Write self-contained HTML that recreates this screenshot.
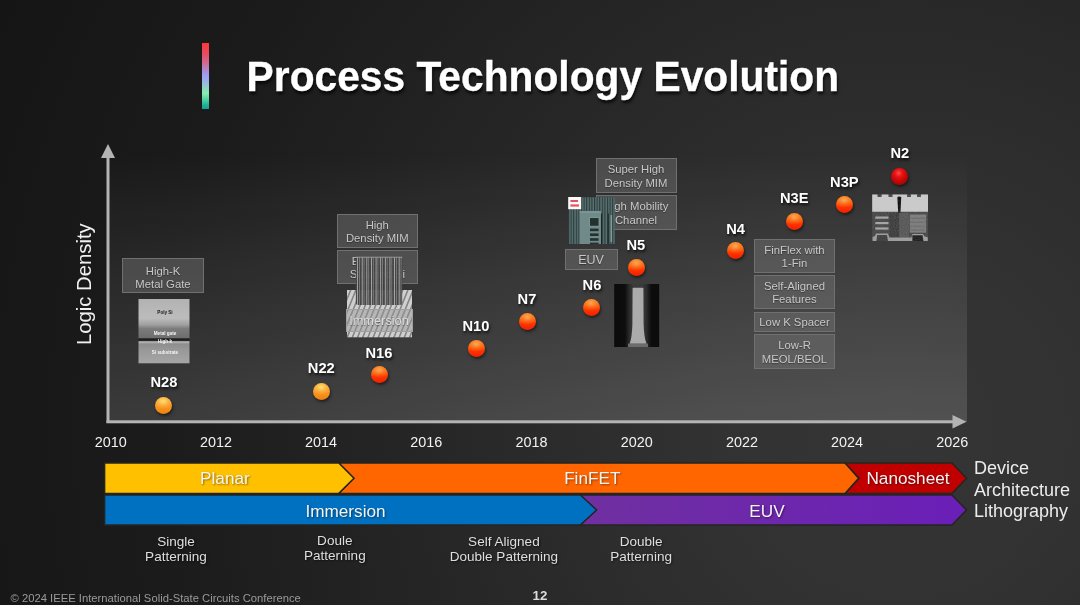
<!DOCTYPE html>
<html>
<head>
<meta charset="utf-8">
<title>Process Technology Evolution</title>
<style>
html,body{margin:0;padding:0;}
body{width:1080px;height:605px;overflow:hidden;background:#222;font-family:"Liberation Sans",sans-serif;}
#slide{position:relative;width:1080px;height:605px;overflow:hidden;
  background:radial-gradient(circle 1000px at 900px 430px,#353535 0%,#323232 18%,#2b2b2b 36%,#232323 55%,#1b1b1b 75%,#151515 100%);}
.abs{position:absolute;}
#plot{left:109px;top:148px;width:858px;height:274px;
  background:linear-gradient(180deg,rgba(255,255,255,0) 0%,rgba(255,255,255,0.075) 50%,rgba(255,255,255,0.145) 100%);}
#accent{left:202px;top:43px;width:7px;height:65.5px;
  background:linear-gradient(180deg,#ff3838 0%,#e84a60 16%,#d06a90 30%,#b088c8 40%,#a09cf8 49%,#98b8e0 60%,#90d8c0 70%,#88f0b0 76%,#50d0a0 86%,#20b098 94%,#10a090 100%);}
#title{left:246.6px;top:52.5px;-webkit-text-stroke:0.3px #fff;transform:scaleY(1.04);transform-origin:0 0;font-size:40.75px;font-weight:bold;color:#fff;white-space:nowrap;line-height:47px;
  text-shadow:1px 2px 3px rgba(0,0,0,0.75);}
.yr{position:absolute;top:434px;width:60px;margin-left:-30px;text-align:center;color:#f2f2f2;font-size:14.4px;line-height:17px;}
.nl{position:absolute;width:60px;margin-left:-30px;margin-top:0.8px;text-align:center;color:#fff;font-weight:bold;font-size:14.7px;line-height:17px;
  text-shadow:1px 2px 3px rgba(0,0,0,0.8);}
.dot{position:absolute;width:17px;height:17px;margin:-8.5px 0 0 -8.5px;border-radius:50%;box-shadow:1px 2px 3px rgba(0,0,0,0.5);}
.d1{background:radial-gradient(ellipse 60% 45% at 48% 24%,rgba(255,232,120,0.9) 0%,rgba(255,205,100,0.4) 55%,rgba(255,190,100,0) 100%),linear-gradient(180deg,#f6a030 0%,#f89a26 45%,#f78c18 75%,#e88010 100%);}
.d2{background:radial-gradient(ellipse 60% 45% at 48% 24%,rgba(255,190,110,0.75) 0%,rgba(255,150,60,0.35) 55%,rgba(255,120,40,0) 100%),linear-gradient(180deg,#f67c16 0%,#fa5c0a 40%,#ff3000 68%,#f02000 100%);}
.d3{background:radial-gradient(circle at 45% 30%,#ff4a4a 0%,#e81414 25%,#c40606 55%,#8e0000 100%);}
.box{position:absolute;box-sizing:border-box;border:1.4px solid #707070;background:rgba(124,124,124,0.42);color:#c8c8c8;
  font-size:11.3px;line-height:13.2px;text-align:center;display:flex;align-items:center;justify-content:center;padding-top:2px;
  text-shadow:0 1px 1px rgba(0,0,0,0.4);}
.pat{position:absolute;width:140px;margin-left:-70px;text-align:center;color:#dedede;font-size:13.55px;line-height:15px;
  text-shadow:1px 1px 2px rgba(0,0,0,0.6);}
.bl{position:absolute;color:#f4f4f4;font-size:17.2px;line-height:20px;width:160px;margin-left:-80px;text-align:center;
  text-shadow:1px 1px 2px rgba(0,0,0,0.45);}
.rl{position:absolute;left:974px;color:#ececec;font-size:18px;line-height:21px;white-space:nowrap;}
</style>
</head>
<body>
<div id="slide">
<div id="fx" style="position:absolute;left:0;top:0;width:1080px;height:605px;filter:blur(0.45px)">
  <div id="plot" class="abs"></div>
  <div id="accent" class="abs"></div>
  <div id="title" class="abs">Process Technology Evolution</div>

  <!-- axes + bars -->
  <svg class="abs" style="left:0;top:0" width="1080" height="605" viewBox="0 0 1080 605">
    <g fill="#b4b4b4">
      <rect x="106.5" y="156" width="3" height="267"/>
      <polygon points="108,144 115,158 101,158"/>
      <rect x="106.5" y="420.3" width="848" height="3"/>
      <polygon points="966.5,421.8 952.5,415 952.5,428.6"/>
    </g>
    <defs>
      <linearGradient id="pg" x1="0" x2="1" y1="0" y2="0">
        <stop offset="0" stop-color="#7030a0"/><stop offset="1" stop-color="#6a1fb8"/>
      </linearGradient>
    </defs>
    <!-- device architecture -->
    <polygon points="845,463 952,463 966.5,478.2 952,493.4 845,493.4 859,478.2" fill="#c00000" stroke="#242420" stroke-width="1.5" stroke-linejoin="miter"/>
    <polygon points="338.6,463 845,463 858.6,478.2 845,493.4 338.6,493.4 353.6,478.2" fill="#ff6600" stroke="#242420" stroke-width="1.5" stroke-linejoin="miter"/>
    <polygon points="104.6,463 338.8,463 354,478.2 338.8,493.4 104.6,493.4" fill="#ffc000" stroke="#242420" stroke-width="1.5" stroke-linejoin="miter"/>
    <!-- lithography -->
    <polygon points="580,495 952,495 966.5,510 952,525 580,525 596,510" fill="url(#pg)" stroke="#242420" stroke-width="1.5" stroke-linejoin="miter"/>
    <polygon points="104.6,495 580.4,495 596.6,510 580.4,525 104.6,525" fill="#0070c0" stroke="#242420" stroke-width="1.5" stroke-linejoin="miter"/>
  </svg>

  <div class="abs" id="ylab" style="left:23.5px;top:273px;width:120px;height:24px;line-height:24px;text-align:center;color:#f0f0f0;font-size:20.3px;transform:rotate(-90deg);white-space:nowrap;">Logic Density</div>

  <!-- years -->
  <div class="yr" style="left:110.7px">2010</div>
  <div class="yr" style="left:215.9px">2012</div>
  <div class="yr" style="left:321.1px">2014</div>
  <div class="yr" style="left:426.3px">2016</div>
  <div class="yr" style="left:531.5px">2018</div>
  <div class="yr" style="left:636.7px">2020</div>
  <div class="yr" style="left:741.9px">2022</div>
  <div class="yr" style="left:847.1px">2024</div>
  <div class="yr" style="left:952.3px">2026</div>

  <!-- boxes -->
  <div class="box" style="left:122px;top:258px;width:82px;height:35px;padding-top:4.5px">High-K<br>Metal Gate</div>
  <div class="box" style="left:337px;top:214px;width:80.6px;height:34px">High<br>Density MIM</div>
  <div class="box" style="left:337px;top:250px;width:80.6px;height:34px">Enhanced<br>Strained Si</div>
  <div class="box" style="left:595.5px;top:158px;width:81px;height:35px">Super High<br>Density MIM</div>
  <div class="box" style="left:595.5px;top:195px;width:81px;height:35px">High Mobility<br>Channel</div>
  <div class="box" style="left:754px;top:239px;width:81px;height:34px">FinFlex with<br>1-Fin</div>
  <div class="box" style="left:754px;top:275px;width:81px;height:34px">Self-Aligned<br>Features</div>
  <div class="box" style="left:754px;top:312px;width:81px;height:20px">Low K Spacer</div>
  <div class="box" style="left:754px;top:334px;width:81px;height:35px">Low-R<br>MEOL/BEOL</div>
  <div class="box" style="left:564.5px;top:249px;width:53px;height:21px;font-size:12.5px">EUV</div>


  <!-- SEM gate stack image -->
  <svg class="abs" style="left:138px;top:299px" width="52" height="65" viewBox="0 0 52 65">
    <defs>
      <linearGradient id="sem" x1="0" x2="0" y1="0" y2="1">
        <stop offset="0" stop-color="#b2b2b2"/><stop offset="0.30" stop-color="#bcbcbc"/>
        <stop offset="0.40" stop-color="#a0a0a0"/><stop offset="0.46" stop-color="#7c7c7c"/>
        <stop offset="0.60" stop-color="#6e6e6e"/><stop offset="0.62" stop-color="#1c1c1c"/>
        <stop offset="0.645" stop-color="#242424"/><stop offset="0.665" stop-color="#bcbcbc"/>
        <stop offset="0.70" stop-color="#8e8e8e"/><stop offset="0.80" stop-color="#999999"/>
        <stop offset="1" stop-color="#a6a6a6"/>
      </linearGradient>
      <filter id="b3"><feGaussianBlur stdDeviation="0.35"/></filter>
    </defs>
    <rect x="0.5" y="0" width="51" height="64.3" fill="url(#sem)"/>
    <g font-family="Liberation Sans, sans-serif" font-weight="bold" font-size="4.6" text-anchor="middle" filter="url(#b3)">
      <text x="27" y="14.6" fill="#1a1a1a">Poly Si</text>
      <text x="27" y="36.2" fill="#f4f4f4">Metal gate</text>
      <text x="27" y="43.6" fill="#f4f4f4">High-k</text>
      <text x="27" y="55" fill="#f4f4f4">Si substrate</text>
    </g>
  </svg>

  <!-- FinFET drawing -->
  <svg class="abs" style="left:340px;top:250px" width="80" height="95" viewBox="0 0 80 95">
    <defs>
      <pattern id="hatch" width="5.2" height="12" patternUnits="userSpaceOnUse" patternTransform="skewX(-22)">
        <rect x="0" y="0" width="5.2" height="12" fill="#cfcfcf"/>
        <rect x="0" y="0" width="1.7" height="12" fill="#858585"/>
      </pattern>
      <pattern id="fins" x="16.2" width="4.62" height="50" patternUnits="userSpaceOnUse">
        <rect x="0" y="0" width="4.62" height="50" fill="#414141" fill-opacity="0.93"/>
        <rect x="0.9" y="0" width="0.75" height="50" fill="#c4c4c4"/>
        <rect x="2.95" y="0" width="0.7" height="50" fill="#8c8c8c"/>
      </pattern>
      <filter id="b4"><feGaussianBlur stdDeviation="0.3"/></filter>
    </defs>
    <g filter="url(#b4)">
      <rect x="7" y="40" width="65" height="47.3" fill="url(#hatch)"/>
      <rect x="15.8" y="7" width="46.4" height="48" rx="2" fill="url(#fins)"/>
      <rect x="15.8" y="6.6" width="46.4" height="1.4" fill="#9a9a9a" opacity="0.7"/>
    </g>
  </svg>
  <div class="box" style="left:345.5px;top:309px;width:67px;height:23px;font-size:12.8px;background:rgba(150,150,150,0.45);border-color:#a0a0a0;color:#dcdcdc;padding-top:0">Immersion</div>

  <!-- EUV scanner image -->
  <svg class="abs" style="left:568px;top:197px" width="48" height="48" viewBox="0 0 48 48">
    <defs>
      <pattern id="vst" width="2.6" height="10" patternUnits="userSpaceOnUse">
        <rect width="2.6" height="10" fill="#587070"/>
        <rect width="1.1" height="10" fill="#2c3a3a"/>
      </pattern>
      <filter id="b5"><feGaussianBlur stdDeviation="0.3"/></filter>
    </defs>
    <g filter="url(#b5)">
      <rect x="0.4" y="0.2" width="46.4" height="46.8" fill="url(#vst)"/>
      <rect x="11.6" y="14.3" width="21.4" height="32.7" fill="#6f8a8a"/>
      <rect x="11.6" y="14.3" width="21.4" height="1.2" fill="#85a0a0"/>
      <rect x="21.6" y="20.6" width="9.4" height="8.6" fill="#24302f" stroke="#86a2a0" stroke-width="0.8"/>
      <rect x="22" y="31.6" width="8.6" height="2.6" fill="#24302f"/>
      <rect x="22" y="36.4" width="8.6" height="2.6" fill="#24302f"/>
      <rect x="22" y="41.2" width="8.6" height="2.6" fill="#24302f"/>
      <rect x="22" y="45.6" width="8.6" height="1.4" fill="#24302f"/>
      <rect x="33" y="16.5" width="1" height="30.5" fill="#1c2727"/>
      <rect x="39.8" y="16.5" width="1" height="30.5" fill="#1c2727"/>
      <rect x="42.5" y="18" width="1.6" height="27" fill="#7f9c9a"/>
      <rect x="0.2" y="0" width="13" height="12.2" fill="#fafafa"/>
      <rect x="2.4" y="3" width="7.6" height="2" fill="#e45560"/>
      <rect x="2.4" y="7.4" width="8.6" height="2.2" fill="#e45560"/>
    </g>
  </svg>

  <!-- fin TEM image -->
  <svg class="abs" style="left:614px;top:284px" width="46" height="64" viewBox="0 0 46 64">
    <defs>
      <linearGradient id="halo" x1="0" x2="1" y1="0" y2="0">
        <stop offset="0" stop-color="#0b0b0b"/><stop offset="0.24" stop-color="#0d0d0d"/>
        <stop offset="0.34" stop-color="#2c2c2c"/><stop offset="0.42" stop-color="#3a3a3a"/>
        <stop offset="0.64" stop-color="#3a3a3a"/><stop offset="0.72" stop-color="#2c2c2c"/>
        <stop offset="0.82" stop-color="#0d0d0d"/><stop offset="1" stop-color="#0b0b0b"/>
      </linearGradient>
      <filter id="b6"><feGaussianBlur stdDeviation="0.7"/></filter>
    </defs>
    <rect x="0.2" y="0" width="45" height="63" fill="url(#halo)"/>
    <g filter="url(#b6)">
      <path d="M18.6 4.6 Q18.6 3.8 19.6 3.8 L28.4 3.8 Q29.4 3.8 29.4 4.6 L29.6 40 Q30 54 32.6 59.8 L15.6 59.8 Q18 54 18.4 40 Z" fill="#ababab"/>
      <rect x="14" y="59.6" width="20" height="3.4" fill="#6c6c6c"/>
    </g>
  </svg>

  <!-- nanosheet TEM image -->
  <svg class="abs" style="left:872px;top:194px" width="57" height="48" viewBox="0 0 57 48">
    <defs>
      <filter id="b7"><feGaussianBlur stdDeviation="0.45"/></filter>
      <filter id="nz" x="0" y="0" width="1" height="1">
        <feTurbulence type="fractalNoise" baseFrequency="0.9" numOctaves="2" seed="3" result="n"/>
        <feColorMatrix in="n" type="matrix" values="0 0 0 0 0.5  0 0 0 0 0.5  0 0 0 0 0.5  0.9 0 0 0 -0.25" result="g"/>
        <feComposite in="g" in2="SourceGraphic" operator="in"/>
      </filter>
    </defs>
    <g filter="url(#b7)">
      <rect x="0.2" y="0.4" width="55.8" height="46.5" fill="#444444"/>
      <path d="M0.2 0.4 H5.5 V3.1 H9.6 V0.4 H16.5 V3.1 H20.5 V0.4 H35.1 V3.1 H38.9 V0.4 H45.1 V3.1 H48.9 V0.4 H56 V17.8 H0.2 Z" fill="#cbcbcb"/>
      <path d="M25.4 3.4 Q25.4 2.6 27.2 2.6 Q29.2 2.6 29.2 3.4 L28.8 12 L28.4 18.6 L26.2 18.6 L25.8 12 Z" fill="#0a0a0a"/>
      <rect x="3.3" y="22.5" width="13.2" height="2.2" fill="#a4a4a4"/>
      <rect x="3.3" y="28" width="13.2" height="2.2" fill="#a4a4a4"/>
      <rect x="3.3" y="33.4" width="13.2" height="2.2" fill="#a4a4a4"/>
      <rect x="17.8" y="19" width="9.2" height="24.3" fill="#3a3a3a"/>
      <rect x="27.2" y="19" width="9.8" height="24.3" fill="#555555"/>
      <rect x="37.8" y="20.5" width="16.4" height="18.2" fill="#7a7a7a"/>
      <g fill="#6a6a6a"><rect x="38.4" y="23.6" width="15" height="1.2"/><rect x="38.4" y="27.6" width="15" height="1.2"/><rect x="38.4" y="31.6" width="15" height="1.2"/><rect x="38.4" y="35.4" width="15" height="1.2"/></g>
      <path d="M0.6 46.9 V43 L3 42 L4 39.6 H16 L17.4 43.4 H39.4 L40.4 40 H51 L52.6 42.6 L55.8 43.2 V46.9 Z" fill="#9c9c9c"/>
      <path d="M4.4 46.9 L5.2 41 H15 L16 46.9 Z" fill="#3c3c3c"/>
      <path d="M40.4 46.9 V41.2 H50.6 L51.4 46.9 Z" fill="#1c1c1c"/>
    </g>
    <rect x="0.2" y="0.4" width="55.8" height="46.5" fill="#000" filter="url(#nz)" opacity="0.35"/>
  </svg>

  <!-- node labels + dots -->
  <div class="nl" style="left:164px;top:373px">N28</div><div class="dot d1" style="left:163.6px;top:405.8px"></div>
  <div class="nl" style="left:321.3px;top:359px">N22</div><div class="dot d1" style="left:321.3px;top:391.6px"></div>
  <div class="nl" style="left:379px;top:344px">N16</div><div class="dot d2" style="left:379.5px;top:374.5px"></div>
  <div class="nl" style="left:476px;top:317px">N10</div><div class="dot d2" style="left:476.2px;top:348.4px"></div>
  <div class="nl" style="left:527px;top:290px">N7</div><div class="dot d2" style="left:527px;top:321.5px"></div>
  <div class="nl" style="left:592px;top:276px">N6</div><div class="dot d2" style="left:591.3px;top:307.3px"></div>
  <div class="nl" style="left:635.8px;top:236px">N5</div><div class="dot d2" style="left:636.1px;top:267px"></div>
  <div class="nl" style="left:735.6px;top:220px">N4</div><div class="dot d2" style="left:735.6px;top:250.3px"></div>
  <div class="nl" style="left:794.3px;top:189px">N3E</div><div class="dot d2" style="left:794.3px;top:221.4px"></div>
  <div class="nl" style="left:844.4px;top:173px">N3P</div><div class="dot d2" style="left:844.8px;top:204.4px"></div>
  <div class="nl" style="left:899.8px;top:144px">N2</div><div class="dot d3" style="left:899.8px;top:176.3px"></div>

  <!-- bar labels -->
  <div class="bl" style="left:224.9px;top:468px">Planar</div>
  <div class="bl" style="left:592.3px;top:468px">FinFET</div>
  <div class="bl" style="left:908px;top:468px">Nanosheet</div>
  <div class="bl" style="left:345.5px;top:500.5px">Immersion</div>
  <div class="bl" style="left:767px;top:500.5px">EUV</div>

  <div class="rl" style="top:458px">Device</div>
  <div class="rl" style="top:479.5px">Architecture</div>
  <div class="rl" style="top:501px">Lithography</div>

  <!-- patterning -->
  <div class="pat" style="left:176px;top:534.3px">Single<br>Patterning</div>
  <div class="pat" style="left:334.8px;top:533px">Doule<br>Patterning</div>
  <div class="pat" style="left:503.9px;top:534.3px">Self Aligned<br>Double Patterning</div>
  <div class="pat" style="left:641.1px;top:534.3px">Double<br>Patterning</div>

  <!-- footer -->
  <div class="abs" style="left:10.5px;top:591.7px;font-size:11.25px;line-height:13px;color:#9a9a9a;white-space:nowrap">© 2024 IEEE International Solid-State Circuits Conference</div>
  <div class="abs" style="left:520px;top:589.3px;width:40px;text-align:center;font-size:13.3px;line-height:14px;font-weight:bold;color:#dcdcdc">12</div>
</div>
</div>
</body>
</html>
